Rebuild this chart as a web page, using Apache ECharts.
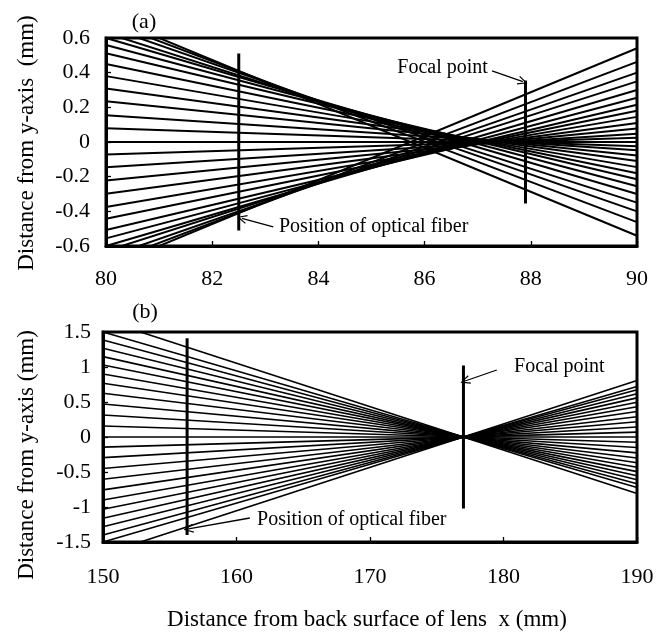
<!DOCTYPE html>
<html><head><meta charset="utf-8">
<script src="https://cdn.jsdelivr.net/npm/echarts@6/dist/echarts.min.js"></script>
<style>html,body{margin:0;padding:0;background:#fff}#c{width:666px;height:634px}</style>
</head><body><div id="c"></div>
<script>
const FONT = '"Liberation Serif", "Times New Roman", serif';

// ---------- panel (a) ----------
const aXMin = 80, aXMax = 90, aXStep = 2;
const aYMin = -0.6, aYMax = 0.6, aYStep = 0.2;
const aRayX = [80, 90];
// rays leaving the upper-left (y at x=80, y at x=90)
const aUpperY80 = [0.08, 0.155, 0.235, 0.308, 0.38, 0.45, 0.512, 0.56, 0.6, 0.629, 0.666, 0.698, 0.727];
const aUpperY90 = [-0.025, -0.048, -0.078, -0.11, -0.145, -0.18, -0.215, -0.255, -0.3, -0.35, -0.4, -0.462, -0.541];
// rays leaving the lower-left
const aLowerY80 = [-0.072, -0.145, -0.222, -0.298, -0.375, -0.443, -0.508, -0.556, -0.6, -0.629, -0.666, -0.698, -0.727];
const aLowerY90 = [0.025, 0.048, 0.078, 0.11, 0.145, 0.18, 0.215, 0.255, 0.3, 0.35, 0.4, 0.462, 0.541];
const aAxisRay = [0, 0];
const aFiberX = 82.5, aFiberY = [-0.51, 0.51];
const aFocalX = 87.9, aFocalY = [-0.355, 0.355];

// ---------- panel (b) ----------
const bXMin = 150, bXMax = 190, bXStep = 10;
const bYMin = -1.5, bYMax = 1.5, bYStep = 0.5;
const bRayX = [150, 190];
const bUpperY150 = [0.157, 0.314, 0.471, 0.624, 0.767, 0.9, 1.029, 1.148, 1.267, 1.386, 1.5, 1.674];
const bUpperY190 = [-0.076, -0.151, -0.227, -0.300, -0.369, -0.433, -0.495, -0.553, -0.610, -0.667, -0.722, -0.806];
const bLowerY150 = [-0.145, -0.295, -0.45, -0.603, -0.755, -0.9, -1.033, -1.162, -1.281, -1.4, -1.5, -1.674];
const bLowerY190 = [0.070, 0.142, 0.217, 0.290, 0.364, 0.433, 0.497, 0.559, 0.617, 0.674, 0.722, 0.806];
const bAxisRay = [0, 0];
const bFiberX = 156.3, bFiberY = [-1.4, 1.41];
const bFocalX = 177, bFocalY = [-1.02, 1.02];

// annotations (data coordinates)
const aFocalText = 'Focal point', aFocalTextAt = [87.23, 0.43], aFocalArrow = [[87.27, 0.41], [87.85, 0.348]];
const aFiberText = 'Position of optical fiber', aFiberTextAt = [83.22, -0.49], aFiberArrow = [[83.15, -0.49], [82.56, -0.44]];
const bFocalText = 'Focal point', bFocalTextAt = [180.64, 1.0], bFocalArrow = [[179.5, 0.957], [177.12, 0.8]];
const bFiberText = 'Position of optical fiber', bFiberTextAt = [161.39, -1.186], bFiberArrow = [[161.0, -1.157], [156.4, -1.314]];

const CHEVRON = 'path://M5,0 L10,10 L8.8,10.6 L5,2.6 L1.2,10.6 L0,10 Z';

function ray(gi, xs, y0, y1, w) {
  return {type:'line', xAxisIndex:gi, yAxisIndex:gi, data:[[xs[0], y0],[xs[1], y1]],
    symbol:'none', clip:true, silent:true, animation:false,
    lineStyle:{color:'#000', width:w}};
}
function vline(gi, x, ys) {
  return {type:'line', xAxisIndex:gi, yAxisIndex:gi, data:[[x, ys[0]],[x, ys[1]]],
    symbol:'none', clip:true, silent:true, animation:false, z:5,
    lineStyle:{color:'#000', width:3}};
}
function arrow(gi, pts) {
  return {type:'line', xAxisIndex:gi, yAxisIndex:gi, data:[], silent:true, animation:false, z:6,
    markLine:{silent:true, animation:false, symbol:['none', CHEVRON], symbolSize:[9, 10],
      label:{show:false}, emphasis:{disabled:true},
      lineStyle:{type:'solid', color:'#000', width:1.3},
      data:[[{coord:pts[0]},{coord:pts[1]}]]}};
}

const series = [];
series.push(ray(0, aRayX, aAxisRay[0], aAxisRay[1], 2));
aUpperY80.forEach((v,i)=>series.push(ray(0, aRayX, v, aUpperY90[i], 2)));
aLowerY80.forEach((v,i)=>series.push(ray(0, aRayX, v, aLowerY90[i], 2)));
series.push(vline(0, aFiberX, aFiberY));
series.push(vline(0, aFocalX, aFocalY));
series.push(arrow(0, aFocalArrow));
series.push(arrow(0, aFiberArrow));

series.push(ray(1, bRayX, bAxisRay[0], bAxisRay[1], 1.6));
bUpperY150.forEach((v,i)=>series.push(ray(1, bRayX, v, bUpperY190[i], 1.6)));
bLowerY150.forEach((v,i)=>series.push(ray(1, bRayX, v, bLowerY190[i], 1.6)));
series.push(vline(1, bFiberX, bFiberY));
series.push(vline(1, bFocalX, bFocalY));
series.push(arrow(1, bFocalArrow));
series.push(arrow(1, bFiberArrow));

function xAx(gi, min, max, step, margin) {
  return {type:'value', gridIndex:gi, min, max, interval:step,
    axisLine:{show:true, onZero:false, lineStyle:{color:'#000', width:3}},
    axisTick:{show:true, inside:true, length:5, lineStyle:{color:'#000', width:1.3}},
    splitLine:{show:false},
    axisLabel:{color:'#000', fontFamily:FONT, fontSize:22, margin:margin}};
}
function yAx(gi, min, max, step, margin) {
  return {type:'value', gridIndex:gi, min, max, interval:step,
    axisLine:{show:true, onZero:false, lineStyle:{color:'#000', width:3}},
    axisTick:{show:true, inside:true, length:5, lineStyle:{color:'#000', width:1.3}},
    splitLine:{show:false},
    axisLabel:{color:'#000', fontFamily:FONT, fontSize:22, margin:margin}};
}

const chart = echarts.init(document.getElementById('c'), null, {renderer:'canvas'});
chart.setOption({
  backgroundColor:'#fff',
  animation:false,
  grid:[
    {left:106, top:38, width:531, height:208, show:true, borderColor:'#000', borderWidth:3, backgroundColor:'transparent'},
    {left:103, top:332, width:534, height:210, show:true, borderColor:'#000', borderWidth:3, backgroundColor:'transparent'}
  ],
  xAxis:[xAx(0, aXMin, aXMax, aXStep, 22), xAx(1, bXMin, bXMax, bXStep, 24)],
  yAxis:[yAx(0, aYMin, aYMax, aYStep, 16), yAx(1, bYMin, bYMax, bYStep, 12)],
  series
});

function px(gi, p){ return chart.convertToPixel({gridIndex:gi}, p); }
function annText(gi, txt, at, align){
  const p = px(gi, at);
  return {type:'text', x:p[0], y:p[1], z:10,
    style:{text:txt, fill:'#000', font:'20px ' + FONT, align:align, verticalAlign:'middle',
      backgroundColor:'#fff', padding:[0,2]}};
}
chart.setOption({graphic:[
  {type:'text', x:144, y:22, style:{text:'(a)', fill:'#000', font:'22px ' + FONT, align:'center', verticalAlign:'middle'}},
  {type:'text', x:145, y:312, style:{text:'(b)', fill:'#000', font:'22px ' + FONT, align:'center', verticalAlign:'middle'}},
  {type:'text', x:27, y:143, rotation:Math.PI/2, style:{text:'Distance from y-axis  (mm)', fill:'#000', font:'23px ' + FONT, align:'center', verticalAlign:'middle'}},
  {type:'text', x:27, y:455, rotation:Math.PI/2, style:{text:'Distance from y-axis (mm)', fill:'#000', font:'23px ' + FONT, align:'center', verticalAlign:'middle'}},
  {type:'text', x:367, y:620, style:{text:'Distance from back surface of lens  x (mm)', fill:'#000', font:'23px ' + FONT, align:'center', verticalAlign:'middle'}},
  annText(0, aFocalText, aFocalTextAt, 'right'),
  annText(0, aFiberText, aFiberTextAt, 'left'),
  annText(1, bFocalText, bFocalTextAt, 'left'),
  annText(1, bFiberText, bFiberTextAt, 'left')
]});
</script></body></html>
